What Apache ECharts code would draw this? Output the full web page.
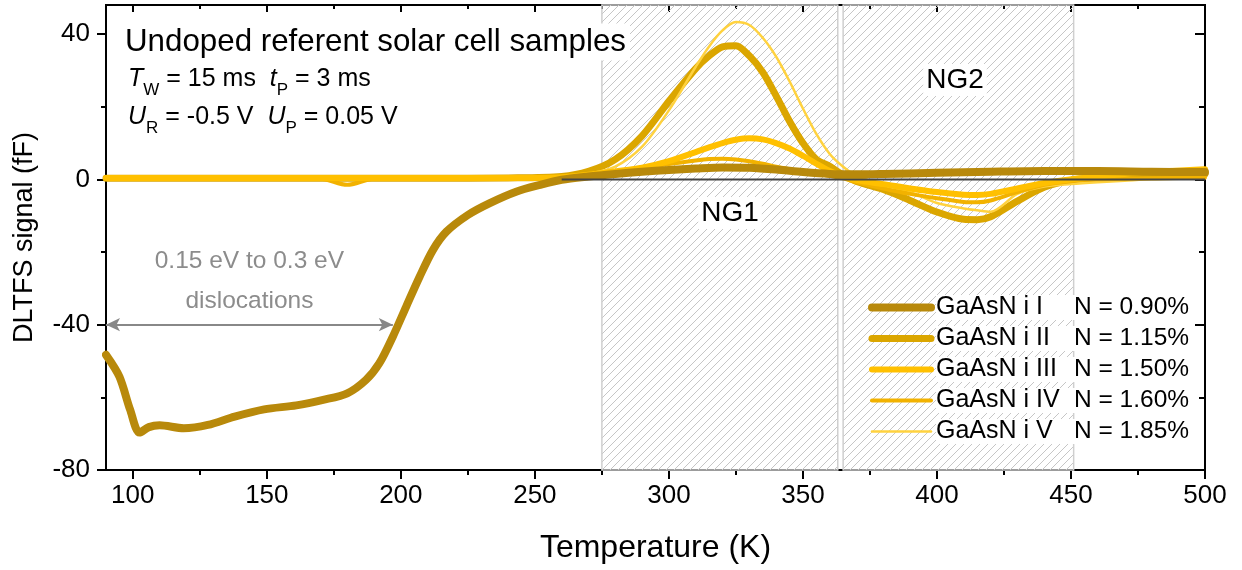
<!DOCTYPE html>
<html>
<head>
<meta charset="utf-8">
<script src="https://cdn.jsdelivr.net/npm/echarts@6/dist/echarts.min.js"></script>
<style>
  html, body { margin: 0; padding: 0; background: #fff; }
  #chart { width: 1242px; height: 570px; }
</style>
</head>
<body>
<div id="chart"></div>
<script>
// samples and nitrogen content
const sampleNames = ['GaAsN i I', 'GaAsN i II', 'GaAsN i III', 'GaAsN i IV', 'GaAsN i V'];
const nitrogen = ['0.90', '1.15', '1.50', '1.60', '1.85'];
const sampleColors = ['#b8890b', '#dba600', '#ffc000', '#f2b200', '#ffd23f'];
const sampleWidths = [8, 7, 6, 4, 2.5];

// sample I (own temperature grid, deep dislocation dip)
const tempI = [90, 95, 99, 102.5, 106, 110, 119, 128, 138, 149, 161, 171, 180, 187, 192, 197, 202, 207, 212, 217,
  225, 233, 243, 252, 260, 270, 280, 290, 300, 310, 320, 330, 340, 350, 360, 370, 380, 400, 420, 440, 460, 480, 500];
const signalI = [-48.3, -54.3, -63.4, -69.7, -68.2, -67.7, -68.5, -67.6, -65.3, -63.3, -62.2, -60.7, -58.9, -55.2, -50.6, -43.3, -35, -26.8, -19.4, -14.4,
  -9.8, -6.6, -3.4, -1.5, -0.1, 0.8, 1.5, 2.1, 2.6, 3, 3.3, 3.2, 2.7, 2, 1.5, 1.4, 1.5, 1.8, 2.1, 2.3, 2.3, 2.1, 2];

// samples II - V (shared temperature grid)
const temp = [90, 120, 150, 170, 180, 190, 210, 240, 260, 270, 280, 290, 300, 310, 315, 320, 325, 330, 335, 340,
  345, 350, 355, 360, 365, 370, 380, 390, 400, 410, 415, 420, 430, 440, 450, 460, 470, 480, 500];
const signalII = [0.3, 0.3, 0.3, 0.3, 0.3, 0.3, 0.3, 0.4, 0.8, 2.2, 5.5, 12, 21.5, 30.5, 34, 36.5, 36.8, 34, 29.5, 23,
  16, 10, 5.5, 3.6, 1.2, -0.6, -2.8, -5.8, -9, -11, -11.1, -10.3, -6, -2.2, -0.2, 0.5, 1, 1.2, 1.5];
const signalIII = [0.4, 0.4, 0.4, 0.4, 0.4, 0.4, 0.4, 0.4, 0.6, 1.3, 2.2, 3.2, 5, 7.5, 8.8, 10, 10.9, 11.3, 11, 10,
  8.5, 6.5, 4.3, 2.3, 0.8, -0.2, -1.3, -2.5, -3.5, -4.2, -4.3, -4, -2.5, -1, 0, 0.8, 1.5, 2, 2.8];
const signalIV = [0.3, 0.3, 0.3, 0.2, -1.5, 0.2, 0.3, 0.3, 0.6, 1.2, 2, 3, 4.2, 5.2, 5.6, 5.7, 5.5, 5, 4.3, 3.5,
  2.8, 2.2, 1.6, 1, 0.3, -0.8, -2.5, -4, -5.2, -6.2, -6.3, -5.8, -3.5, -1.5, -0.5, 0, 0.2, 0.3, 0.5];
const signalV = [0.2, 0.2, 0.2, 0.2, 0.2, 0.2, 0.2, 0.2, 0.5, 1.5, 3.5, 9, 19, 31, 36.6, 41, 43.3, 42.5, 39, 33.8,
  27, 19.5, 12.5, 7, 3.5, 1, -1.5, -3.5, -6.5, -8, -8.5, -8.9, -4, -2, -1.3, -0.8, -0.4, 0, 0.3];

// axis ticks
const xTicks = [100, 150, 200, 250, 300, 350, 400, 450, 500];
const xMinorTicks = [125, 175, 225, 275, 325, 375, 425, 475];
const yTicks = [-80, -40, 0, 40];
const yMinorTicks = [-60, -20, 20];

// annotations (data coordinates)
const ngRanges = [[275, 363], [365, 451]];
const arrowSpan = [90, 197];
const arrowLevel = -40;
const baseline = [[260, 0], [500, 0]];

const font = '"Liberation Sans", Arial, sans-serif';
const pairs = (xs, ys) => xs.map((x, i) => [x, ys[i]]);

// diagonal hatch for the NG regions
function hatch() {
  const c = document.createElement('canvas');
  c.width = c.height = 8;
  const g = c.getContext('2d');
  g.strokeStyle = '#c6c6c6';
  g.lineWidth = 1;
  g.beginPath();
  g.moveTo(0, 8); g.lineTo(8, 0);
  g.moveTo(-2, 2); g.lineTo(2, -2);
  g.moveTo(6, 10); g.lineTo(10, 6);
  g.stroke();
  return c;
}

const tickStyle = { color: '#000', width: 2 };
function xAxisOf(position, ticks, length, inside, withLabels) {
  return {
    type: 'value', position, min: 90, max: 500,
    axisLine: { show: true, onZero: false, lineStyle: { color: '#000', width: 2 } },
    splitLine: { show: false },
    axisTick: { show: true, customValues: ticks, length, inside, lineStyle: tickStyle },
    axisLabel: withLabels
      ? { customValues: ticks, color: '#000', fontSize: 26, fontFamily: font, margin: 13 }
      : { show: false },
    name: withLabels ? 'Temperature (K)' : '',
    nameLocation: 'middle', nameGap: 62,
    nameTextStyle: { color: '#000', fontSize: 32, fontFamily: font }
  };
}
function yAxisOf(position, ticks, length, inside, withLabels) {
  return {
    type: 'value', position, min: -80, max: 48,
    axisLine: { show: true, onZero: false, lineStyle: { color: '#000', width: 2 } },
    splitLine: { show: false },
    axisTick: { show: true, customValues: ticks, length, inside, lineStyle: tickStyle },
    axisLabel: withLabels
      ? { customValues: ticks, color: '#000', fontSize: 26, fontFamily: font, margin: 16 }
      : { show: false },
    name: withLabels ? 'DLTFS signal (fF)' : '',
    nameLocation: 'middle', nameGap: 68,
    nameTextStyle: { color: '#000', fontSize: 27, fontFamily: font }
  };
}

const signals = [pairs(tempI, signalI), pairs(temp, signalII), pairs(temp, signalIII), pairs(temp, signalIV), pairs(temp, signalV)];

// drawing order: II, V, IV, III, I (I on top)
const sampleSeries = [1, 4, 3, 2, 0].map((i, k) => ({
  name: sampleNames[i],
  type: 'line',
  data: signals[i],
  smooth: 0.3,
  symbol: 'none',
  z: 2 + k * 0.1,
  lineStyle: { color: sampleColors[i], width: sampleWidths[i], cap: 'round', join: 'round' },
  itemStyle: { color: sampleColors[i] }
}));

const subRich = {
  m: { fontSize: 25, fontFamily: font, lineHeight: 28, verticalAlign: 'top', fill: '#000' },
  i: { fontSize: 25, fontFamily: font, fontStyle: 'italic', lineHeight: 28, verticalAlign: 'top', fill: '#000' },
  s: { fontSize: 17, fontFamily: font, lineHeight: 16, padding: [19, 0, 0, 0], fill: '#000' }
};

const chart = echarts.init(document.getElementById('chart'));

chart.setOption({
  animation: false,
  backgroundColor: '#fff',
  textStyle: { fontFamily: font },
  grid: { left: 106, right: 37, top: 5, bottom: 100, outerBoundsMode: 'none' },
  xAxis: [
    xAxisOf('bottom', xTicks, 9, false, true),
    xAxisOf('top', xTicks, 7, true, false),
    xAxisOf('bottom', xMinorTicks, 5, false, false),
    xAxisOf('top', xMinorTicks, 4, true, false)
  ],
  yAxis: [
    yAxisOf('left', yTicks, 9, false, true),
    yAxisOf('right', yTicks, 10, true, false),
    yAxisOf('left', yMinorTicks, 5, false, false),
    yAxisOf('right', yMinorTicks, 6, true, false)
  ],
  legend: {
    orient: 'vertical',
    left: 863,
    top: 290,
    itemWidth: 59,
    itemHeight: 12,
    itemGap: 6,
    data: sampleNames,
    lineStyle: { width: 'inherit' },
    itemStyle: { opacity: 0 },
    formatter: name => `{n|${name}}{p|N = ${nitrogen[sampleNames.indexOf(name)]}%}`,
    textStyle: {
      rich: {
        n: { width: 138, fontSize: 25, color: '#000', fontFamily: font, backgroundColor: '#fff' },
        p: { fontSize: 24.5, color: '#000', fontFamily: font, backgroundColor: '#fff' }
      }
    }
  },
  graphic: [
    {
      type: 'text', z: 3,
      style: {
        x: 121, y: 42, text: 'Undoped referent solar cell samples', fill: '#000',
        fontSize: 31.3, fontFamily: font, verticalAlign: 'middle', backgroundColor: '#fff', padding: [3, 4]
      }
    },
    {
      type: 'text', z: 3,
      style: { x: 128, y: 67, verticalAlign: 'top', text: '{i|T}{s|W}{m| = 15 ms  }{i|t}{s|P}{m| = 3 ms}', rich: subRich }
    },
    {
      type: 'text', z: 3,
      style: { x: 128, y: 105, verticalAlign: 'top', text: '{i|U}{s|R}{m| = -0.5 V  }{i|U}{s|P}{m| = 0.05 V}', rich: subRich }
    },
    {
      type: 'text', z: 3,
      style: {
        x: 730, y: 213, text: 'NG1', fill: '#000', fontSize: 28, fontFamily: font,
        align: 'center', verticalAlign: 'middle', backgroundColor: '#fff', padding: [2, 3]
      }
    },
    {
      type: 'text', z: 3,
      style: {
        x: 955, y: 80, text: 'NG2', fill: '#000', fontSize: 28, fontFamily: font,
        align: 'center', verticalAlign: 'middle', backgroundColor: '#fff', padding: [2, 3]
      }
    }
  ],
  series: [
    ...sampleSeries,
    {
      // zero reference line, NG regions and the dislocation arrow
      type: 'line',
      data: baseline,
      symbol: 'none',
      silent: true,
      z: 5,
      lineStyle: { color: '#444', width: 2 },
      markArea: {
        silent: true,
        z: 1,
        itemStyle: { color: { image: hatch(), repeat: 'repeat' }, borderColor: '#cfcfcf', borderWidth: 1.5 },
        data: ngRanges.map(r => [{ xAxis: r[0] }, { xAxis: r[1] }])
      },
      markLine: {
        silent: true,
        symbol: ['arrow', 'arrow'],
        symbolSize: [10, 14],
        lineStyle: { color: '#888', width: 2, type: 'solid' },
        label: {
          show: true,
          position: 'middle',
          formatter: '0.15 eV to 0.3 eV\ndislocations',
          color: '#8c8c8c',
          fontSize: 24.5,
          lineHeight: 40,
          fontFamily: font,
          distance: 3
        },
        data: [[{ coord: [arrowSpan[0], arrowLevel] }, { coord: [arrowSpan[1], arrowLevel] }]]
      }
    }
  ]
});
</script>
</body>
</html>
